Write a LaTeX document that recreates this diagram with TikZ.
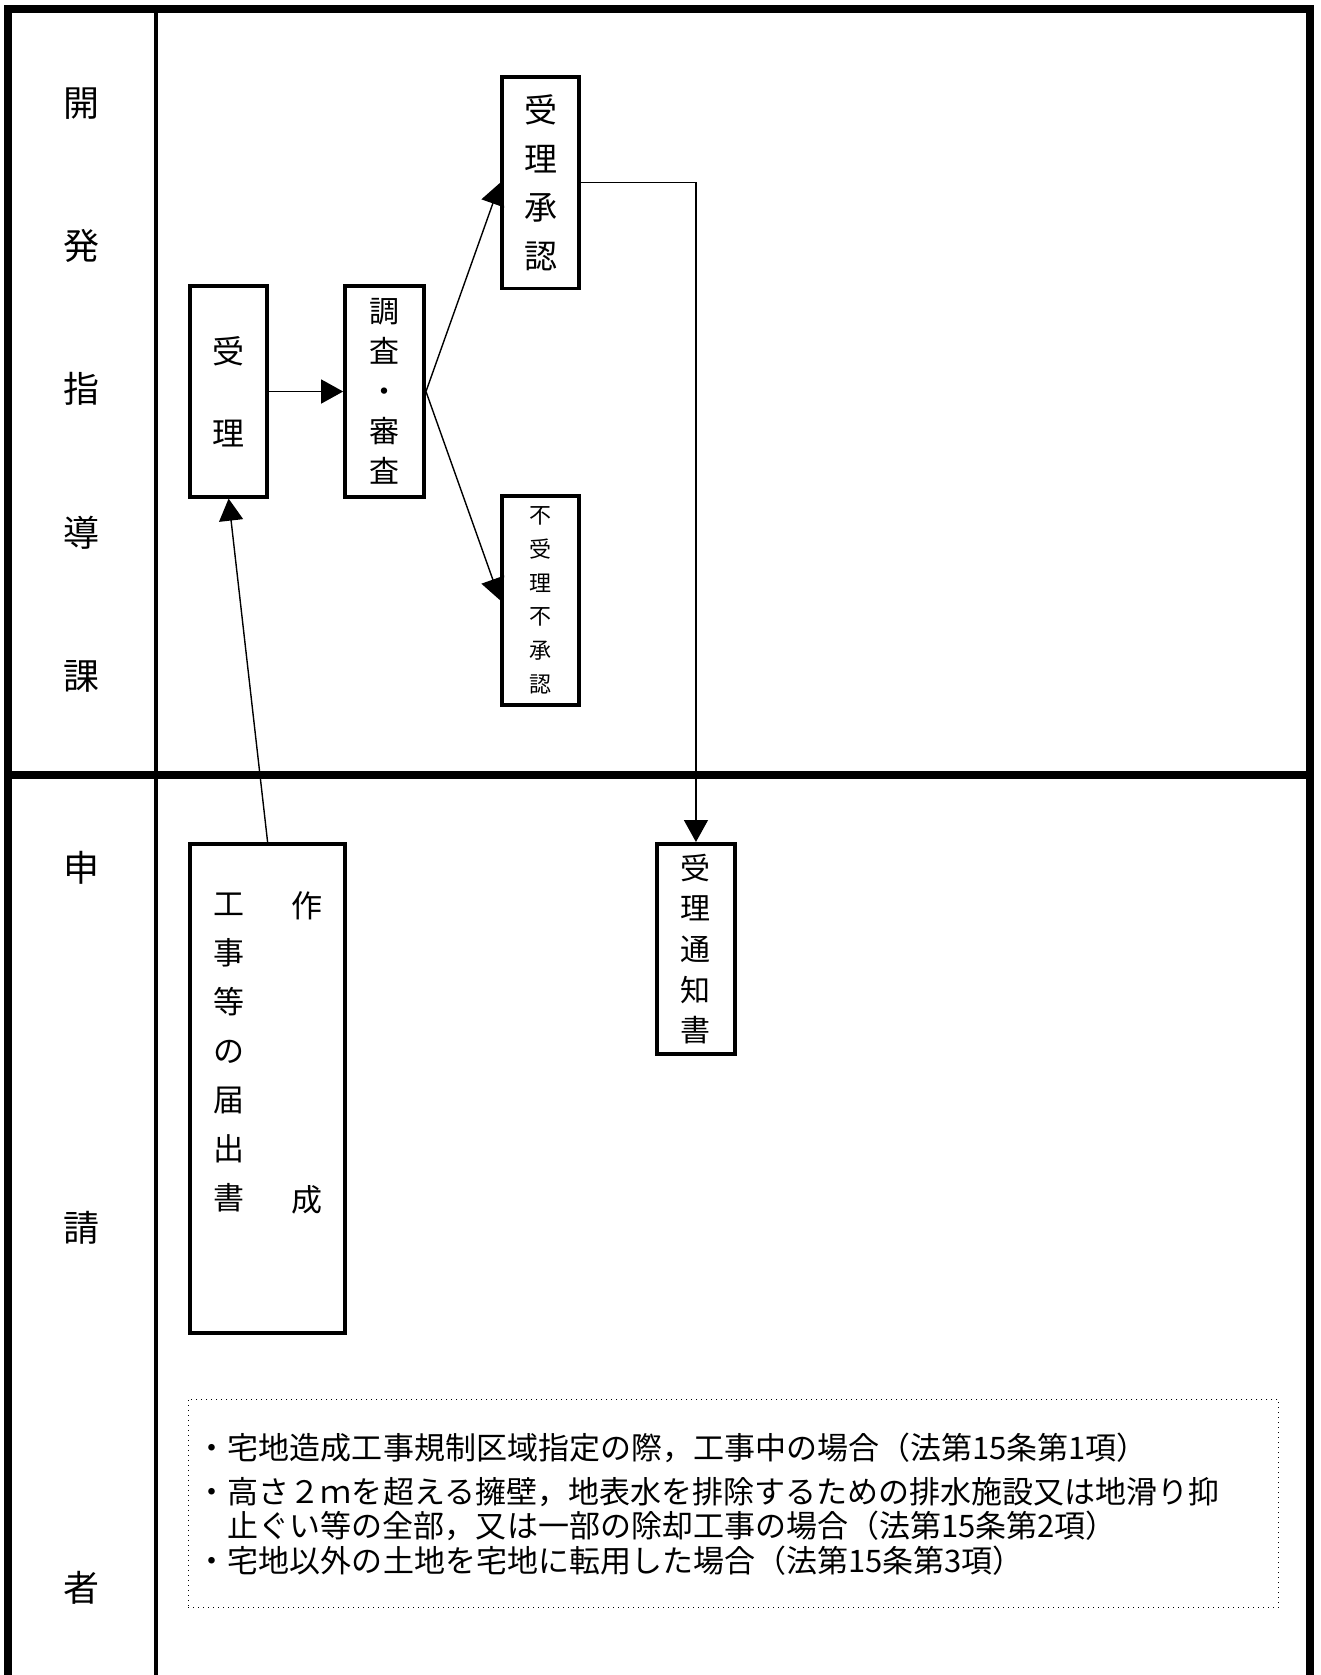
\documentclass[tikz,border=0pt]{standalone}
\usepackage{fontspec}
\setmainfont{Noto Sans CJK JP}
\usetikzlibrary{arrows.meta}
\begin{document}
\begin{tikzpicture}[x=0.534pt,y=-0.534pt,
  frame/.style={line width=4pt},
  divider/.style={line width=1.9pt},
  box/.style={draw, line width=1.9pt, inner sep=0pt, align=center, fill=white},
  conn/.style={line width=0.7pt, -{Triangle[length=11pt,width=12pt]}},
  lane/.style={align=center, inner sep=0pt},
  note/.style={anchor=west, inner sep=0pt, font=\fontsize{15.5}{18}\selectfont},
]
\useasboundingbox (0,0) rectangle (1236,1568);
% frame
\draw[frame, line join=miter] (7.5,1568) -- (7.5,8.5) -- (1226,8.5) -- (1226,1568);
\draw[frame] (7.5,725.5) -- (1226,725.5);
\draw[divider] (146,8.5) -- (146,1568);

% lane labels
\node[lane, font=\fontsize{18}{71.6}\selectfont] (laneA) at (76,365) {開\\発\\指\\導\\課};
\node[lane, font=\fontsize{18}{180}\selectfont] (laneB) at (76,1149) {申\\請\\者};

% boxes
\node[box, minimum width=38.4pt, minimum height=105.2pt, font=\fontsize{16}{41}\selectfont] (uketsuke) at (214,366.5) {受\\理};
\node[box, minimum width=39.5pt, minimum height=105.2pt, font=\fontsize{15}{20}\selectfont] (chousa) at (360,366.5) {調\\査\\・\\審\\査};
\node[box, minimum width=38.4pt, minimum height=105.7pt, font=\fontsize{16.5}{24.4}\selectfont] (shounin) at (506,171) {受\\理\\承\\認};
\node[box, minimum width=38.4pt, minimum height=104.7pt, font=\fontsize{11}{16.9}\selectfont] (fushounin) at (506,562) {不\\受\\理\\不\\承\\認};
\node[box, minimum width=39pt, minimum height=105.2pt, font=\fontsize{15}{20.3}\selectfont] (tsuchi) at (651.5,888.5) {受\\理\\通\\知\\書};
\node[box, minimum width=77.4pt, minimum height=244.6pt] (todoke) at (250.5,1019) {};
\node[lane, font=\fontsize{15.5}{24.5}\selectfont] (todokeL) at (214,985.5) {工\\事\\等\\の\\届\\出\\書};
\node[lane, font=\fontsize{15.5}{146.9}\selectfont] (todokeR) at (287,985.5) {作\\成};

% connectors
\draw[conn] (uketsuke.east) -- (chousa.west);
\draw[conn] (chousa.east) -- (shounin.west);
\draw[conn] (chousa.east) -- (fushounin.west);
\draw[conn] (shounin.east) -| (tsuchi.north);
\draw[conn] (todoke.north) -- (uketsuke.south);

% note box
\node[draw, dotted, line width=0.5pt, minimum width=545.2pt, minimum height=104.1pt, inner sep=0pt] (notebox) at (686.5,1407.5) {};
\node[note] (n1) at (184,1355) {・宅地造成工事規制区域指定の際，工事中の場合（法第15条第1項）};
\node[note] (n2) at (184,1397) {・高さ２ｍを超える擁壁，地表水を排除するための排水施設又は地滑り抑};
\node[note] (n3) at (213,1428) {止ぐい等の全部，又は一部の除却工事の場合（法第15条第2項）};
\node[note] (n4) at (184,1461) {・宅地以外の土地を宅地に転用した場合（法第15条第3項）};
\end{tikzpicture}
\end{document}
